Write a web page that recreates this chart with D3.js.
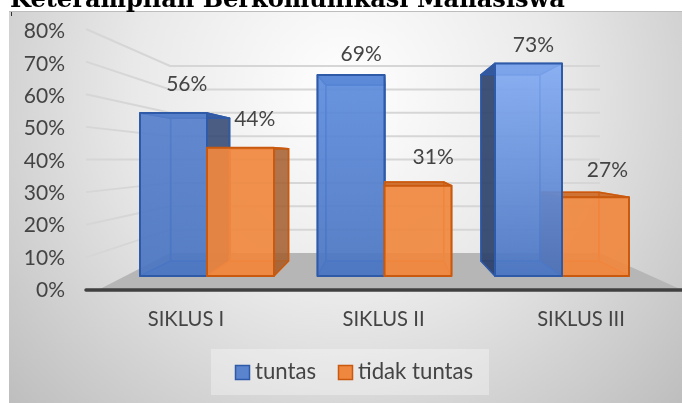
<!DOCTYPE html>
<html>
<head>
<meta charset="utf-8">
<script src="https://cdn.jsdelivr.net/npm/d3@7"></script>
<style>
  html, body { margin: 0; padding: 0; background: #fff; overflow: hidden; }
  svg { display: block; filter: blur(0.35px); }
  text { font-family: Lato, "Open Sans", sans-serif; fill: #444; }
</style>
</head>
<body>
<div id="chart"></div>
<script>
const width = 682;
const height = 403;

const titleText = 'Keterampilan Berkomunikasi Mahasiswa';
const categories = ['SIKLUS I', 'SIKLUS II', 'SIKLUS III'];
const seriesNames = ['tuntas', 'tidak tuntas'];
const tuntas = [56, 69, 73];
const tidakTuntas = [44, 31, 27];
const tickValues = [0, 10, 20, 30, 40, 50, 60, 70, 80];

const seriesColors = { tuntas: '#4472c4', 'tidak tuntas': '#ed7d31' };
const strokeColors = { tuntas: '#2f5aa8', 'tidak tuntas': '#c8590f' };
const sideColors = { tuntas: '#2b3f66', 'tidak tuntas': '#9c5a2c' };
const blueTops = ['#5680cc', '#5c8bdc', '#82abf3'];

// small hand nudges for the data labels, the original has them moved around
const labelNudge = [[0, -30], [5, -30], [8, -23], [17, -26], [14, -20], [25, -24]];
const categoryNudge = [-21, -1, 19];

const svg = d3.select('#chart').append('svg')
  .attr('width', width)
  .attr('height', height);

const defs = svg.append('defs');
const bg = defs.append('radialGradient')
  .attr('id', 'bg')
  .attr('gradientUnits', 'userSpaceOnUse')
  .attr('cx', 345).attr('cy', 90).attr('r', 470);
bg.append('stop').attr('offset', '0%').attr('stop-color', '#ffffff');
bg.append('stop').attr('offset', '45%').attr('stop-color', '#e9e9e9');
bg.append('stop').attr('offset', '100%').attr('stop-color', '#bcbcbc');

blueTops.forEach((c, i) => {
  const g = defs.append('linearGradient')
    .attr('id', `blue${i}`)
    .attr('x1', 0).attr('y1', 0).attr('x2', 0).attr('y2', 1);
  g.append('stop').attr('offset', '0%').attr('stop-color', c);
  g.append('stop').attr('offset', '100%').attr('stop-color', '#4a75c2');
});

// panel
svg.append('rect')
  .attr('x', 9).attr('y', 11)
  .attr('width', width - 9).attr('height', height - 11)
  .attr('fill', 'url(#bg)');
svg.append('line')
  .attr('x1', 9).attr('x2', width)
  .attr('y1', 11.5).attr('y2', 11.5)
  .attr('stroke', '#bdbdbd');
svg.append('line')
  .attr('x1', 11.5).attr('x2', 11.5)
  .attr('y1', 12).attr('y2', 16)
  .attr('stroke', '#333');

// title, cut off by the top of the picture
svg.append('text')
  .attr('x', 10)
  .attr('y', 6.5)
  .style('font-family', '"DejaVu Serif", serif')
  .style('font-weight', 'bold')
  .style('font-size', '24.1px')
  .style('fill', '#000')
  .text(titleText);

// the fake 3d is just a few scales: axis plane, wall, and front/back of the bars
const yAxisScale = d3.scaleLinear().domain([0, 80]).range([290, 31]);
const yEdge = d3.scaleLinear().domain([0, 80]).range([290, 29]);
const yWall = d3.scaleLinear().domain([0, 80]).range([253, 66]);
const yFront = d3.scaleLinear().domain([0, 80]).range([276, 43]);
const yBack = d3.scaleLinear().domain([0, 80]).range([261, 57]);

const xFront = d3.scaleBand().domain(categories).range([118.25, 650.75]).paddingInner(0.245).paddingOuter(0.1225);
const xBack = d3.scaleBand().domain(categories).range([152, 617.5]).paddingInner(0.24).paddingOuter(0.12);
const innerFront = d3.scaleBand().domain(seriesNames).range([0, xFront.bandwidth()]);
const innerBack = d3.scaleBand().domain(seriesNames).range([0, xBack.bandwidth()]);

const wallLeft = 170;
const wallRight = 600;
const axisLeft = 86;

const poly = d3.line();

// floor
svg.append('path')
  .attr('d', poly([[100, yEdge(0) - 1], [wallLeft, yWall(0)], [wallRight, yWall(0)], [width - 2, yEdge(0) - 1]]) + 'Z')
  .attr('fill', '#b6b6b6');

// gridlines
const grid = svg.append('g')
  .attr('fill', 'none')
  .attr('stroke', '#d6d6d6')
  .attr('stroke-width', 2);
grid.selectAll('path')
  .data(tickValues.filter(d => d > 0))
  .join('path')
  .attr('d', d => poly([[axisLeft, yEdge(d)], [wallLeft, yWall(d)], [wallRight, yWall(d)]]));

// y axis labels
svg.append('g')
  .attr('transform', 'translate(71,0)')
  .call(d3.axisLeft(yAxisScale).tickValues(tickValues).tickSize(0).tickPadding(6).tickFormat(d => d + '%'))
  .call(g => g.select('.domain').remove())
  .selectAll('text')
  .style('font-size', '21px')
  .style('fill', '#444');

// bars
const bars = [];
categories.forEach((cat, i) => {
  bars.push({ cat, i, series: seriesNames[0], value: tuntas[i] });
  bars.push({ cat, i, series: seriesNames[1], value: tidakTuntas[i] });
});
bars.forEach((b, k) => {
  b.fl = xFront(b.cat) + innerFront(b.series);
  b.fr = b.fl + innerFront.bandwidth();
  b.bl = xBack(b.cat) + innerBack(b.series);
  b.br = b.bl + innerBack.bandwidth();
  b.nudge = labelNudge[k];
});

// outer bars first so the inner ones are painted over them
const drawOrder = bars.slice().sort((a, b) =>
  Math.abs((b.bl + b.br) / 2 - 385) - Math.abs((a.bl + a.br) / 2 - 385));

const fillOf = b => b.series === 'tuntas' ? `url(#blue${b.i})` : '#f0873f';

drawOrder.forEach(b => {
  const g = svg.append('g')
    .attr('stroke-linejoin', 'round');
  const line = seriesColors[b.series];
  const edge = strokeColors[b.series];
  const side = sideColors[b.series];
  const top0 = yFront(b.value), top1 = yBack(b.value);
  const bot0 = yFront(0), bot1 = yBack(0);

  // back
  g.append('path')
    .attr('d', poly([[b.bl, top1], [b.br, top1], [b.br, bot1], [b.bl, bot1]]) + 'Z')
    .attr('fill', fillOf(b))
    .attr('fill-opacity', 0.35)
    .attr('stroke', line)
    .attr('stroke-width', 1.5);
  // bottom
  g.append('path')
    .attr('d', poly([[b.fl, bot0], [b.fr, bot0], [b.br, bot1], [b.bl, bot1]]) + 'Z')
    .attr('fill', line)
    .attr('fill-opacity', 0.6)
    .attr('stroke', line)
    .attr('stroke-width', 1.2);
  // sides, dark only when they stick out past the front
  const leftOut = b.bl < b.fl;
  const rightOut = b.br > b.fr;
  g.append('path')
    .attr('d', poly([[b.fl, top0], [b.bl, top1], [b.bl, bot1], [b.fl, bot0]]) + 'Z')
    .attr('fill', leftOut ? side : fillOf(b))
    .attr('fill-opacity', leftOut ? 0.88 : 0.35)
    .attr('stroke', leftOut ? edge : line)
    .attr('stroke-width', 1.5);
  g.append('path')
    .attr('d', poly([[b.fr, top0], [b.br, top1], [b.br, bot1], [b.fr, bot0]]) + 'Z')
    .attr('fill', rightOut ? side : fillOf(b))
    .attr('fill-opacity', rightOut ? 0.78 : 0.35)
    .attr('stroke', rightOut ? edge : line)
    .attr('stroke-width', 1.5);
  // top
  g.append('path')
    .attr('d', poly([[b.fl, top0], [b.fr, top0], [b.br, top1], [b.bl, top1]]) + 'Z')
    .attr('fill', edge)
    .attr('fill-opacity', 0.75)
    .attr('stroke', edge)
    .attr('stroke-width', 1.5);
  // front
  g.append('path')
    .attr('d', poly([[b.fl, top0], [b.fr, top0], [b.fr, bot0], [b.fl, bot0]]) + 'Z')
    .attr('fill', fillOf(b))
    .attr('fill-opacity', 0.88)
    .attr('stroke', edge)
    .attr('stroke-width', 2);
});

// axis line on top of the floor
svg.append('line')
  .attr('x1', axisLeft).attr('x2', width + 5)
  .attr('y1', yEdge(0)).attr('y2', yEdge(0))
  .attr('stroke', '#404040')
  .attr('stroke-width', 3.5)
  .attr('stroke-linecap', 'round');

// data labels
svg.append('g')
  .selectAll('text')
  .data(bars)
  .join('text')
  .attr('text-anchor', 'middle')
  .attr('dominant-baseline', 'central')
  .attr('x', d => (d.fl + d.fr + d.bl + d.br) / 4 + d.nudge[0])
  .attr('y', d => (d.series === 'tuntas' || d.i === 0 ? yFront(d.value) : yBack(d.value)) + d.nudge[1])
  .style('font-size', '21px')
  .text(d => d.value + '%');

// category labels
svg.append('g')
  .selectAll('text')
  .data(categories)
  .join('text')
  .attr('text-anchor', 'middle')
  .attr('x', (d, i) => xFront(d) + xFront.bandwidth() / 2 + categoryNudge[i])
  .attr('y', 326)
  .style('font-size', '20.2px')
  .text(d => d);

// legend
const legendX = d3.scaleOrdinal().domain(seriesNames).range([235, 338]);
svg.append('rect')
  .attr('x', 211).attr('y', 349)
  .attr('width', 278).attr('height', 46)
  .attr('fill', '#fff')
  .attr('fill-opacity', 0.32);
const legend = svg.append('g')
  .selectAll('g')
  .data(seriesNames)
  .join('g')
  .attr('transform', d => `translate(${legendX(d)},365)`);
legend.append('rect')
  .attr('x', 0.5).attr('y', 0.5)
  .attr('width', 14).attr('height', 14)
  .attr('fill', d => d === 'tuntas' ? '#5b84cf' : '#f0873f')
  .attr('stroke', d => strokeColors[d])
  .attr('stroke-width', 1.5);
legend.append('text')
  .attr('x', 20)
  .attr('y', 14)
  .style('font-size', '22.2px')
  .text(d => d);
</script>
</body>
</html>
